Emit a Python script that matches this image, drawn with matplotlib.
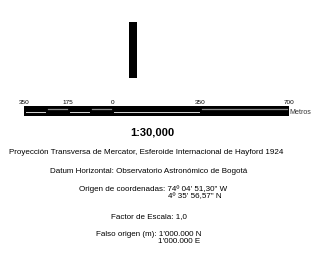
import matplotlib
matplotlib.use('Agg')
import matplotlib.pyplot as plt
from matplotlib.patches import Rectangle

plt.rcParams['font.family'] = ['Liberation Sans', 'DejaVu Sans']

# scale bar data (metres)
seg_edges = [-350, -262.5, -175, -87.5, 0, 350, 700]
tick_pos = [-350, -175, 0, 350, 700]
tick_labels = ['350', '175', '0', '350', '700']
units = 'Metros'
scale_text = '1:30,000'

# legend text lines: (text, x, y, align) in pixel layout
info_lines = [
    ('Proyección Transversa de Mercator, Esferoide Internacional de Hayford 1924', 146, 153, 'center'),
    ('Datum Horizontal: Observatorio Astronómico de Bogotá', 148.5, 171.5, 'center'),
    ('Origen de coordenadas: 74º 04\' 51,30" W', 227, 189.5, 'right'),
    ('4º 35\' 56,57" N', 222, 196.5, 'right'),
    ('Factor de Escala: 1,0', 148.5, 217, 'center'),
    ('Falso origen (m): 1\'000.000 N', 202, 234.5, 'right'),
    ('1\'000.000 E', 200, 241.5, 'right'),
]

W, H = 314, 255
fig = plt.figure(figsize=(W / 100, H / 100), dpi=100)

# full page axes in pixel coords
ax0 = fig.add_axes([0, 0, 1, 1])
ax0.set_xlim(0, W)
ax0.set_ylim(H, 0)
ax0.axis('off')

# north arrow (plain black bar)
ax0.add_patch(Rectangle((129, 23), 8, 56, facecolor='black', edgecolor='none'))

ax0.text(152, 133, scale_text, ha='center', va='center', fontsize=8, fontweight='bold')
for txt, x, y, al in info_lines:
    ax0.text(x, y, txt, ha=al, va='center', fontsize=5.8)

# scale bar axes, x in metres
bx0, bx1, by0, by1 = 24, 289, 107, 116.5
ax = fig.add_axes([bx0 / W, 1 - by1 / H, (bx1 - bx0) / W, (by1 - by0) / H])
ax.set_xlim(seg_edges[0], seg_edges[-1])
ax.set_ylim(0, 1)
ax.axvspan(seg_edges[0], seg_edges[-1], color='black')
for i in range(len(seg_edges) - 1):
    a, b = seg_edges[i], seg_edges[i + 1]
    inset = 6
    if i % 2 == 0:
        ax.plot([a + inset, b - inset], [0.33, 0.33], color='#d8d8d8', lw=0.7)
    else:
        ax.plot([a + inset, b - inset], [0.7, 0.7], color='#8a8a8a', lw=0.9)
for s in ax.spines.values():
    s.set_visible(False)
ax.set_yticks([])
ax.xaxis.tick_top()
ax.set_xticks(tick_pos)
ax.set_xticklabels(tick_labels, fontsize=4.6)
ax.tick_params(axis='x', length=0, pad=1.2)
ax.text(1.0, 0.45, units, transform=ax.transAxes, ha='left', va='center',
        fontsize=5.1, color='#333333')

fig.savefig('out.png', dpi=100)
